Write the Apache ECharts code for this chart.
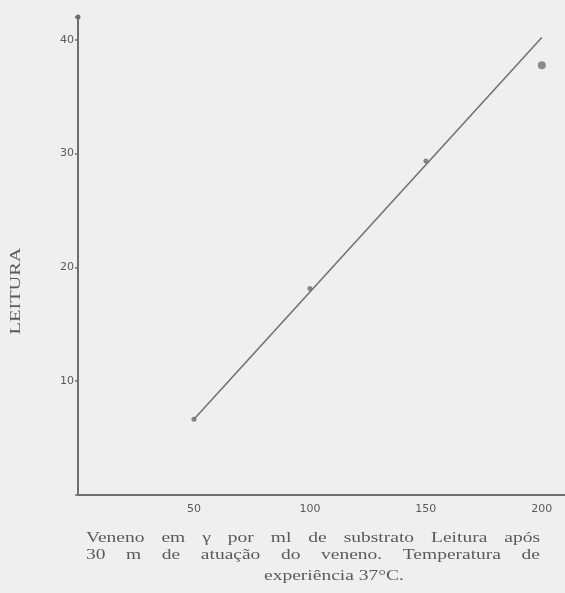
<!DOCTYPE html>
<html>
<head>
<meta charset="utf-8">
<script src="https://cdn.jsdelivr.net/npm/echarts@6/dist/echarts.min.js"></script>
<style>
  html, body { margin: 0; padding: 0; background: #efefef; }
  #chart { width: 565px; height: 593px; }
</style>
</head>
<body>
<div id="chart"></div>
<script>
// Venom dose (γ per ml of substrate) against reading
const veneno = [50, 100, 150, 200];
const leitura = [6.65, 18.15, 29.35, 37.75];

// Straight fitted line drawn through the readings
const retaX = [50, 200];
const retaY = [6.65, 40.2];

const xTicks = [50, 100, 150, 200];
const yTicks = [10, 20, 30, 40];

const yName = 'LEITURA';
const legenda = [
  'Veneno em γ por ml de substrato Leitura após',
  '30 m de atuação do veneno.  Temperatura de',
  'experiência 37°C.'
];

const ink = '#6e6e6e';
const textInk = '#5a5a5a';
const serif = '"Liberation Serif", "DejaVu Serif", serif';

const chart = echarts.init(document.getElementById('chart'), null, { renderer: 'canvas' });

// Word-justified caption lines built with the canvas text metrics
const measure = document.createElement('canvas').getContext('2d');
function captionGraphics() {
  const out = [];
  const font = '15px ' + serif;
  const stretch = 1.3;
  measure.font = font;
  const left = 86, right = 540;
  const rows = [539, 556, 577];
  legenda.forEach((line, i) => {
    const words = line.split(/\s+/);
    const justified = i < legenda.length - 1;
    if (!justified) {
      const w = measure.measureText(line).width * stretch;
      out.push({
        type: 'text', x: 334 - w / 2, y: rows[i] - 8,
        style: { text: line, font: font, fill: textInk },
        scaleX: stretch
      });
      return;
    }
    const widths = words.map(w => measure.measureText(w).width * stretch);
    const total = widths.reduce((a, b) => a + b, 0);
    const gap = (right - left - total) / (words.length - 1);
    let x = left;
    words.forEach((w, k) => {
      out.push({
        type: 'text', x: x, y: rows[i] - 8,
        style: { text: w, font: font, fill: textInk },
        scaleX: stretch
      });
      x += widths[k] + gap;
    });
  });
  return out;
}

const option = {
  backgroundColor: '#efefef',
  animation: false,
  grid: { left: 78, right: 0, top: 17, bottom: 98, containLabel: false, outerBoundsMode: 'none' },
  xAxis: {
    type: 'value', min: 0, max: 210, interval: 50,
    axisLine: { show: true, lineStyle: { color: ink, width: 2 } },
    axisTick: { show: false },
    splitLine: { show: false },
    axisLabel: {
      margin: 9, color: textInk, fontFamily: 'DejaVu Sans', fontSize: 11,
      formatter: v => (xTicks.indexOf(v) >= 0 ? String(v) : '')
    }
  },
  yAxis: {
    type: 'value', min: 0, max: 42, interval: 10,
    axisLine: {
      show: true, lineStyle: { color: ink, width: 2 },
      symbol: ['none', 'circle'], symbolSize: [5, 5]
    },
    axisTick: { show: true, length: 3, lineStyle: { color: ink, width: 1.5 } },
    splitLine: { show: false },
    axisLabel: {
      margin: 4, color: textInk, fontFamily: 'DejaVu Sans', fontSize: 11,
      formatter: v => (yTicks.indexOf(v) >= 0 ? String(v) : '')
    }
  },
  series: [
    {
      type: 'line',
      data: retaX.map((x, i) => [x, retaY[i]]),
      showSymbol: false,
      lineStyle: { color: '#727272', width: 1.6 },
      z: 2
    },
    {
      type: 'scatter',
      data: veneno.map((x, i) => {
        const p = { value: [x, leitura[i]] };
        if (i === veneno.length - 1) {
          p.symbolSize = 8;
          p.itemStyle = { color: '#707070' };
        }
        return p;
      }),
      symbol: 'circle',
      symbolSize: 5,
      itemStyle: { color: '#6a6a6a' },
      z: 3
    }
  ],
  graphic: [
    {
      type: 'text', x: 16, y: 291, rotation: Math.PI / 2,
      scaleX: 1.45,
      style: {
        text: yName, font: '14px ' + serif, fill: textInk,
        textAlign: 'center', textVerticalAlign: 'middle'
      }
    }
  ].concat(captionGraphics())
};

chart.setOption(option);
</script>
</body>
</html>
